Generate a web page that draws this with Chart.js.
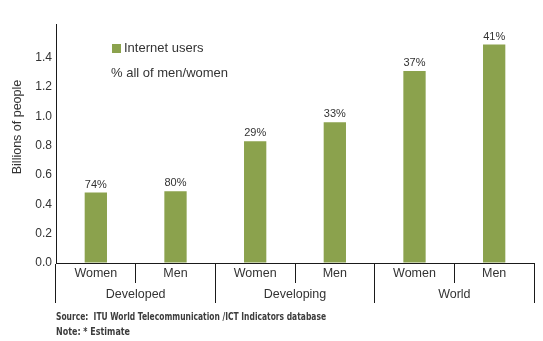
<!DOCTYPE html>
<html>
<head>
<meta charset="utf-8">
<script src="https://cdn.jsdelivr.net/npm/chart.js@4/dist/chart.umd.min.js"></script>
<style>
    html, body { margin: 0; padding: 0; background: #fff; }
    #wrap { width: 543px; height: 341px; position: relative; }
</style>
</head>
<body>
<div id="wrap"><canvas id="canvas"></canvas></div>
<script>
    // sub-categories (one bar each) and their groups
    var labels = ['Women', 'Men', 'Women', 'Men', 'Women', 'Men'];
    var groups = ['Developed', 'Developing', 'World'];
    // internet users, billions of people
    var users = [0.48, 0.49, 0.83, 0.96, 1.31, 1.49];
    // share of all men / women, shown above the bars
    var shares = ['74%', '80%', '29%', '33%', '37%', '41%'];
    var yTicks = [0, 0.2, 0.4, 0.6, 0.8, 1.0, 1.2, 1.4];

    var green = '#8ba24d';
    var textColor = '#333333';
    var font = 'Liberation Sans, Arial, sans-serif';

    // percentages, legend, axis title and footnote
    var extras = {
        id: 'extras',
        afterDatasetsDraw: function (chart) {
            var ctx = chart.ctx;
            var meta = chart.getDatasetMeta(0);
            ctx.save();
            ctx.fillStyle = textColor;
            ctx.font = '11px ' + font;
            ctx.textAlign = 'center';
            ctx.textBaseline = 'alphabetic';
            meta.data.forEach(function (bar, i) {
                ctx.fillText(shares[i], bar.x, bar.y - 5);
            });

            // legend
            ctx.fillStyle = green;
            ctx.fillRect(112, 44, 9, 9);
            ctx.fillStyle = textColor;
            ctx.font = '13px ' + font;
            ctx.textAlign = 'left';
            ctx.textBaseline = 'middle';
            ctx.fillText('Internet users', 124, 48.5);
            ctx.fillText('% all of men/women', 111, 73.5);

            // y axis title
            ctx.save();
            ctx.translate(18, 127);
            ctx.rotate(-Math.PI / 2);
            ctx.textAlign = 'center';
            ctx.font = '12.5px ' + font;
            ctx.fillText('Billions of people', 0, 0);
            ctx.restore();

            // footnote (condensed face, squeezed to the width in the source)
            ctx.font = 'bold 10px "Liberation Sans Narrow", "DejaVu Sans Condensed", sans-serif';
            ctx.fillStyle = '#3c3c3c';
            ctx.fillText('Source:  ITU World Telecommunication /ICT Indicators database', 56, 317, 270);
            ctx.fillText('Note: * Estimate', 56, 332, 74);
            ctx.restore();
        }
    };

    var ctx = document.getElementById('canvas').getContext('2d');
    window.myChart = new Chart(ctx, {
        type: 'bar',
        data: {
            labels: labels,
            datasets: [{
                label: 'Internet users',
                data: users,
                backgroundColor: green,
                borderWidth: 0,
                barPercentage: 0.28,
                categoryPercentage: 1.0
            }]
        },
        options: {
            responsive: true,
            maintainAspectRatio: false,
            animation: false,
            layout: { padding: { left: 0, right: 9, top: 24, bottom: 38 } },
            plugins: {
                legend: { display: false },
                tooltip: { enabled: false }
            },
            scales: {
                y: {
                    min: 0,
                    max: 1.63,
                    afterBuildTicks: function (scale) {
                        scale.ticks = yTicks.map(function (v) { return { value: v }; });
                    },
                    afterFit: function (scale) { scale.width = 56; },
                    grid: { drawOnChartArea: false, drawTicks: false },
                    border: { display: true, color: '#1a1a1a', width: 1 },
                    ticks: {
                        padding: 4,
                        color: textColor,
                        font: { family: font, size: 12 },
                        callback: function (v) { return Number(v).toFixed(1); }
                    }
                },
                x: {
                    weight: 0,
                    afterFit: function (scale) { scale.height = 20; },
                    grid: {
                        offset: true,
                        drawOnChartArea: false,
                        drawTicks: true,
                        tickLength: 20,
                        color: '#1a1a1a'
                    },
                    border: { display: true, color: '#1a1a1a', width: 1 },
                    ticks: {
                        padding: -17,
                        maxRotation: 0,
                        autoSkip: false,
                        color: textColor,
                        font: { family: font, size: 12.5 }
                    }
                },
                x2: {
                    type: 'category',
                    position: 'bottom',
                    weight: 1,
                    labels: groups,
                    offset: true,
                    afterFit: function (scale) { scale.height = 20; },
                    grid: {
                        offset: true,
                        drawOnChartArea: false,
                        drawTicks: true,
                        tickLength: 20,
                        color: '#1a1a1a'
                    },
                    border: { display: false },
                    ticks: {
                        padding: -16,
                        maxRotation: 0,
                        autoSkip: false,
                        color: textColor,
                        font: { family: font, size: 12.5 }
                    }
                }
            }
        },
        plugins: [extras]
    });
</script>
</body>
</html>
